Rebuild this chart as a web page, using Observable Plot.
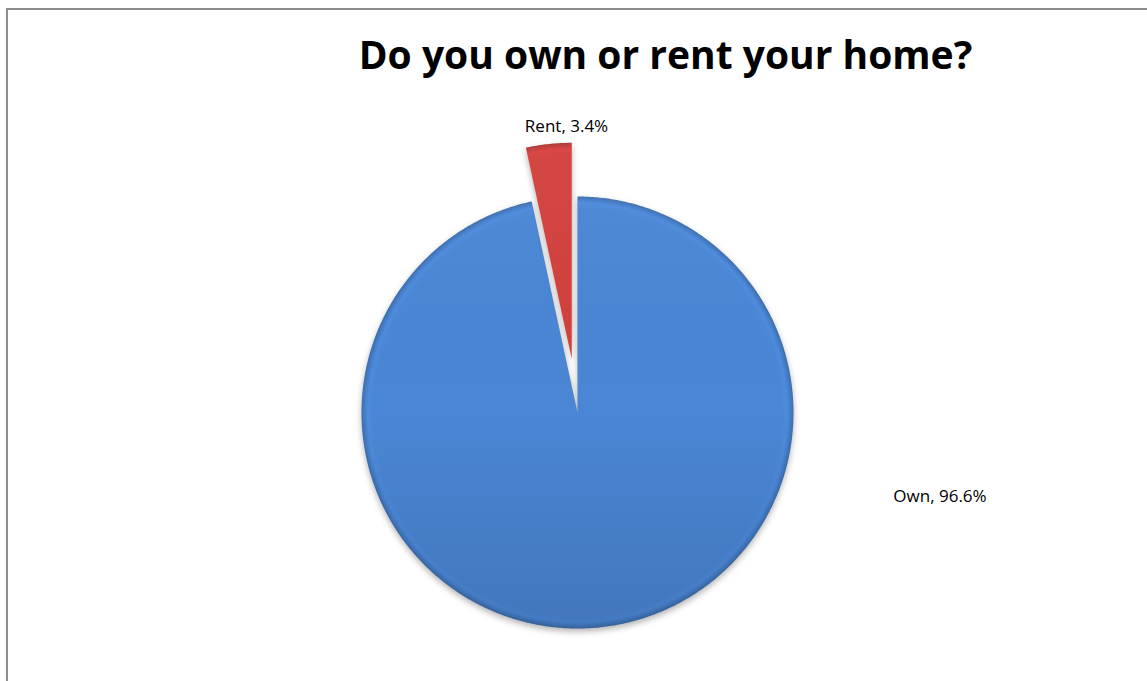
<!DOCTYPE html>
<html>
<head>
<meta charset="utf-8">
<script src="https://cdn.jsdelivr.net/npm/d3@7"></script>
<script src="https://cdn.jsdelivr.net/npm/@observablehq/plot@0.6"></script>
<style>
  html, body { margin: 0; padding: 0; background: #fff; }
  #wrap { position: relative; width: 1147px; height: 681px; overflow: hidden; }
  #frame { position: absolute; left: 6px; top: 8px; width: 1300px; height: 800px;
           border: 2px solid #8c8c8c; box-sizing: border-box; pointer-events: none; }
</style>
</head>
<body>
<div id="wrap"><div id="frame"></div></div>
<script>
// ---- data ----
const title = "Do you own or rent your home?";
const categories = ["Own", "Rent"];
const shares = [96.6, 3.4];
const sliceColors = ["#4A86D5", "#D2403D"];

// ---- layout ----
const W = 1147, H = 681;
const cx = 577, cy = 412, R = 216;
const explodeDist = [0, 54];           // px outward along mid-angle
const labelPolar = [[103, 372], [-2.2, 286]]; // [angle deg from top clockwise, distance from pie centre]

const pie = d3.pie().sort(null).value(d => d.share)(categories.map((c, i) => ({name: c, share: shares[i], i})));

const slices = pie.map(p => {
  const mid = (p.startAngle + p.endAngle) / 2;
  const e = explodeDist[p.data.i];
  const ox = cx + e * Math.sin(mid), oy = cy - e * Math.cos(mid);
  const pts = [{x: ox, y: oy, name: p.data.name}];
  const n = Math.max(4, Math.ceil((p.endAngle - p.startAngle) / (Math.PI / 360)));
  for (let k = 0; k <= n; k++) {
    const a = p.startAngle + (p.endAngle - p.startAngle) * k / n;
    pts.push({x: ox + R * Math.sin(a), y: oy - R * Math.cos(a), name: p.data.name});
  }
  pts.push({x: ox, y: oy, name: p.data.name});
  return {name: p.data.name, i: p.data.i, pts, ox, oy, share: p.data.share};
});

const labels = slices.map(s => {
  const [ang, dist] = labelPolar[s.i];
  const a = ang * Math.PI / 180;
  return {x: cx + dist * Math.sin(a), y: cy - dist * Math.cos(a), text: `${s.name}, ${s.share.toFixed(1)}%`};
});

const plot = Plot.plot({
  width: W, height: H,
  margin: 0,
  x: {domain: [0, W], range: [0, W], axis: null},
  y: {domain: [0, H], range: [0, H], axis: null},
  style: {background: "transparent"},
  marks: [
    ...slices.map(s => Plot.line(s.pts, {x: "x", y: "y", fill: `url(#grad${s.i})`, stroke: "none", curve: "linear"})),
    ...slices.map(s => Plot.line(s.pts, {x: "x", y: "y", fill: "url(#shade)", stroke: "none", curve: "linear"})),
    Plot.text([title], {x: 665, y: 56, text: d => d, fontSize: 39, fontWeight: "bold", fontFamily: "Open Sans", fill: "#000", textAnchor: "middle"}),
    Plot.text(labels, {x: "x", y: "y", text: "text", fontSize: 17, fontFamily: "Open Sans", fill: "#000", textAnchor: "middle"})
  ]
});

// gradients for a bevelled look
const svg = d3.select(plot.tagName.toLowerCase() === "svg" ? plot : plot.querySelector("svg"));
const defs = svg.insert("defs", ":first-child");
const darker = (c, k) => d3.color(c).darker(k).formatHex();
const brighter = (c, k) => d3.color(c).brighter(k).formatHex();
slices.forEach(s => {
  const base = sliceColors[s.i];
  const g = defs.append("radialGradient").attr("id", `grad${s.i}`)
    .attr("gradientUnits", "userSpaceOnUse").attr("cx", s.ox).attr("cy", s.oy).attr("r", R);
  [[0, base], [0.945, base], [0.97, brighter(base, 0.1)], [0.99, darker(base, 0.3)], [1, darker(base, 0.6)]]
    .forEach(([o, c]) => g.append("stop").attr("offset", o).attr("stop-color", c));
});
// subtle top-lit shading overlay
const sh = defs.append("linearGradient").attr("id", "shade")
  .attr("gradientUnits", "userSpaceOnUse").attr("x1", 0).attr("y1", cy - R).attr("x2", 0).attr("y2", cy + R);
[[0, "#ffffff", 0.03], [0.5, "#000000", 0], [1, "#000000", 0.12]]
  .forEach(([o, c, op]) => sh.append("stop").attr("offset", o).attr("stop-color", c).attr("stop-opacity", op));

svg.selectAll("g[aria-label=line]").filter((d, i) => i < slices.length)
  .style("filter", "drop-shadow(0px 3px 3px rgba(0,0,0,0.3))");

document.getElementById("wrap").insertBefore(plot, document.getElementById("frame"));
</script>
</body>
</html>
